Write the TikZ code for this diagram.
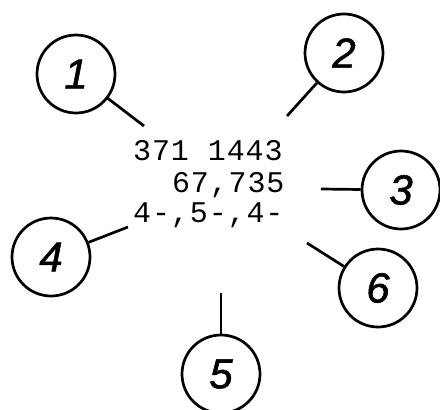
\documentclass[tikz,border=0pt]{standalone}
\usepackage{fontspec}
\newfontfamily\numfont[ItalicFeatures={FakeBold=1.3}]{Liberation Sans}
\newfontfamily\typ[LetterSpace=3]{Liberation Mono}
\begin{document}
\begin{tikzpicture}[x=1pt,y=-1pt,
  callout/.style={draw,circle,line width=2.7pt,minimum size=78pt,inner sep=0pt,
    font=\numfont\itshape\fontsize{42}{42}\selectfont},
  leader/.style={line width=2.7pt},
  code/.style={anchor=base west,inner sep=0pt,font=\typ\fontsize{30}{30}\selectfont}]
\useasboundingbox (0,0) rectangle (440,410);
\node[callout] (c1) at (76,74) {1};
\node[callout] (c2) at (344,53) {2};
\node[callout] (c3) at (401,190) {3};
\node[callout] (c4) at (51,257) {4};
\node[callout] (c5) at (221,374) {5};
\node[callout] (c6) at (378,288) {6};
\coordinate (e1) at (144,126);
\coordinate (e2) at (287,116);
\coordinate (e3) at (321,189);
\coordinate (e4) at (128,227);
\coordinate (e5) at (221,293);
\coordinate (e6) at (307,243);
\foreach \i in {1,...,6} \draw[leader] (c\i) -- (e\i);
\node[code] (t1) at (133,160) {371 1443};
\node[code] (t2) at (171.8,192) {67,735};
\node[code] (t3) at (133,222) {4-,5-,4-};
\end{tikzpicture}
\end{document}
